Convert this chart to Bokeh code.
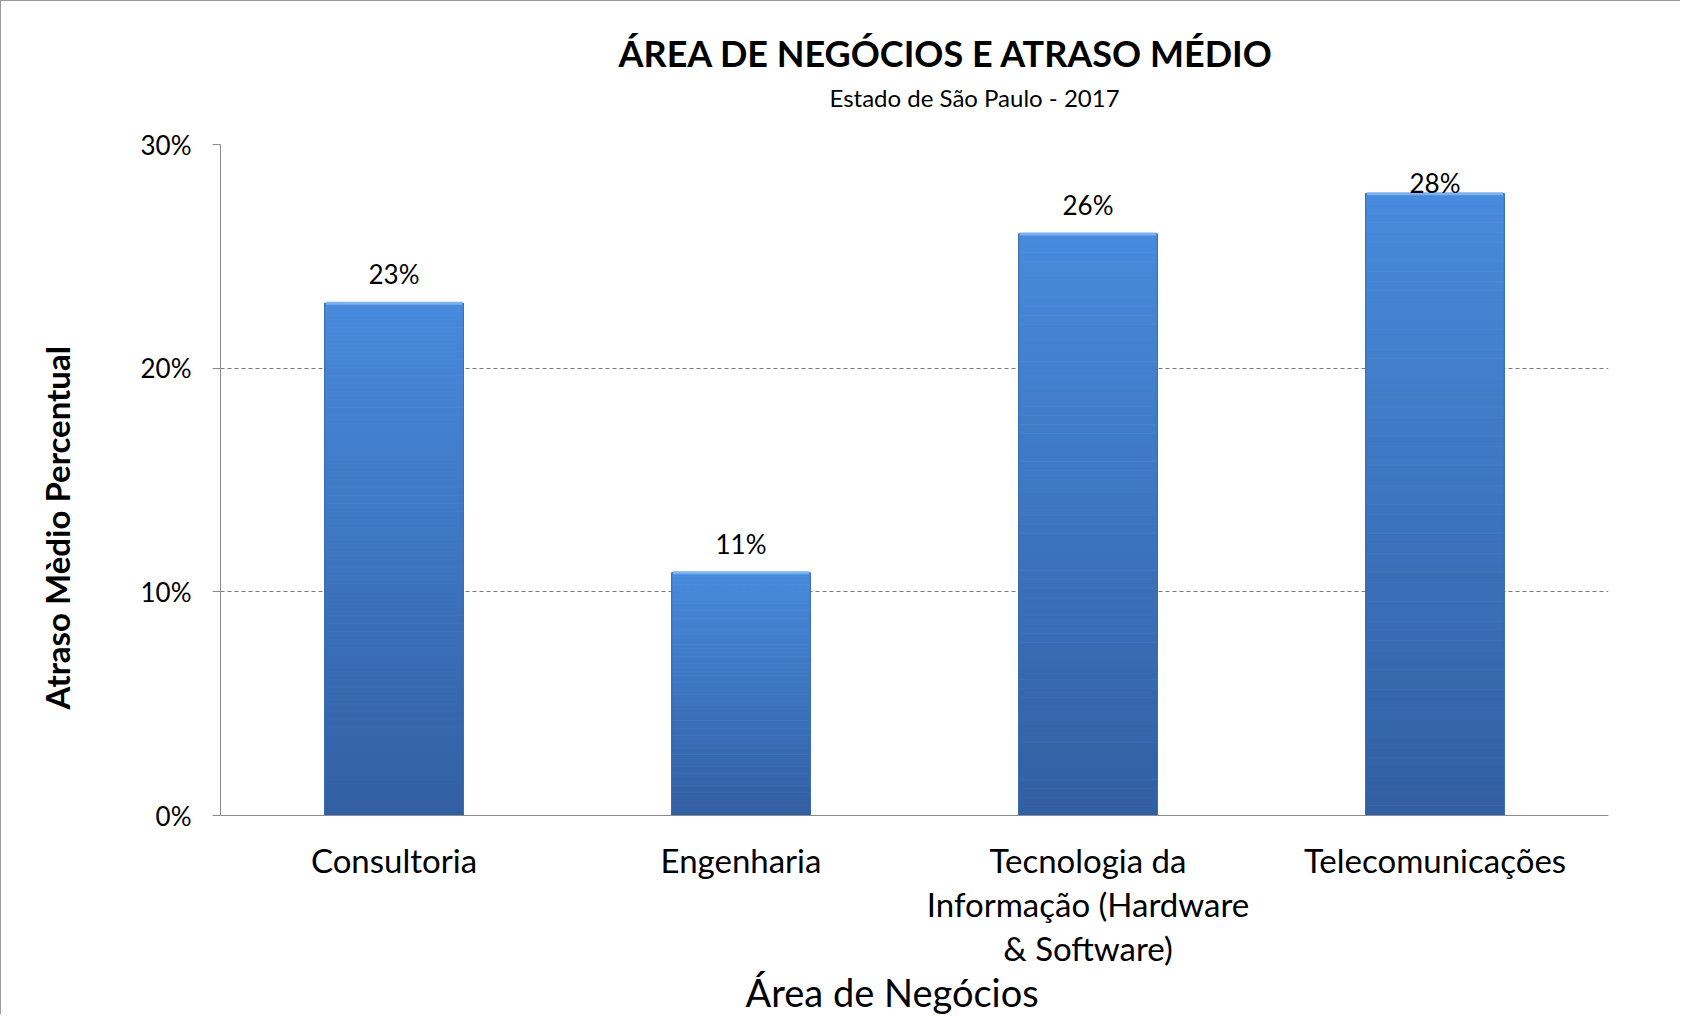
from bokeh.plotting import figure
from bokeh.models import (ColumnDataSource, FactorRange, Range1d, NumeralTickFormatter,
                          FixedTicker, Title, LabelSet)
from bokeh.core.properties import value
from bokeh.embed import file_html
from bokeh.resources import INLINE

# ---- data ----
categories = ["Consultoria", "Engenharia",
              "Tecnologia da\nInformação (Hardware\n& Software)", "Telecomunicações"]
values = [0.229, 0.1085, 0.260, 0.278]
value_labels = ["23%", "11%", "26%", "28%"]
y_ticks = [0.0, 0.1, 0.2, 0.3]

title_text = "ÁREA DE NEGÓCIOS E ATRASO MÉDIO"
subtitle_text = "Estado de São Paulo  - 2017"
x_title = "Área de Negócios"
y_title = "Atraso Mèdio Percentual"

FONT = "Lato"

p = figure(width=1680, height=1014, output_backend="svg", toolbar_location=None,
           x_range=FactorRange(*categories), y_range=Range1d(0, 0.3),
           min_border_left=219, min_border_right=73, min_border_top=143,
           min_border_bottom=200, background_fill_color="white",
           styles={"border-top": "1px solid #9a9a9a", "border-left": "1px solid #9a9a9a"})
p.outline_line_color = None

# ---- gradient bars (slices of each bar from its value) ----
N = 64
top_rgb = (0x48, 0x8a, 0xdc)
bot_rgb = (0x32, 0x5f, 0xa2)
sx, sb, st, sc = [], [], [], []
for c, v in zip(categories, values):
    for k in range(N):
        f = (k + 0.5) / N
        col = tuple(int(round(b + (t - b) * f)) for t, b in zip(top_rgb, bot_rgb))
        sx.append(c)
        sb.append(v * k / N)
        st.append(v * (k + 1) / N)
        sc.append("#%02x%02x%02x" % col)
p.vbar(x=sx, bottom=sb, top=st, width=0.4, fill_color=sc, line_color=sc, line_width=0.8)
# outline / bevel
src = ColumnDataSource(dict(x=categories, top=values, lab=value_labels,
                            ly=[min(v, 0.27) for v in values]))
p.vbar(x="x", top="top", width=0.4, source=src, fill_color=None,
       line_color="#3b6cae", line_width=1)
p.vbar(x="x", top="top", bottom="top", width=0.392, source=src, fill_color=None,
       line_color="#7db2ee", line_width=3)

labels = LabelSet(x="x", y="ly", text="lab", source=src, y_offset=29,
                  text_align="center", text_baseline="middle",
                  text_font=value(FONT), text_font_size=value("26px"),
                  text_color=value("#000000"))
p.add_layout(labels)

# ---- axes ----
p.xgrid.visible = False
p.ygrid.grid_line_color = "#7a7a7a"
p.ygrid.grid_line_dash = "4 3"
p.ygrid.grid_line_width = 1

p.yaxis.ticker = FixedTicker(ticks=y_ticks)
p.yaxis.formatter = NumeralTickFormatter(format="0%")
p.yaxis.minor_tick_line_color = None
p.yaxis.major_tick_in = 0
p.yaxis.major_tick_out = 8
p.yaxis.axis_line_color = "#8c8c8c"
p.yaxis.major_tick_line_color = "#8c8c8c"
p.yaxis.major_label_text_font = FONT
p.yaxis.major_label_text_font_size = "26px"
p.yaxis.major_label_text_color = "#000000"
p.yaxis.major_label_standoff = 21

# blank spacer panel to push the y title outward
p.add_layout(Title(text=" ", text_font_size="2px", standoff=57), "left")
p.add_layout(Title(text=y_title, align="left", offset=106, text_font=FONT,
                   text_font_size="33px", text_font_style="bold",
                   text_color="#000000", standoff=0), "left")

p.xaxis.major_tick_in = 0
p.xaxis.major_tick_out = 0
p.xaxis.major_tick_line_color = None
p.xaxis.axis_line_color = "#8c8c8c"
p.xaxis.major_label_text_font = FONT
p.xaxis.major_label_text_font_size = "33px"
p.xaxis.major_label_text_color = "#000000"
p.xaxis.major_label_text_line_height = 1.1
p.xaxis.major_label_standoff = 24

p.add_layout(Title(text=x_title, align="left", offset=525, text_font=FONT,
                   text_font_size="38px", text_font_style="normal",
                   text_color="#000000", standoff=-8), "below")

# ---- titles ----
p.add_layout(Title(text=subtitle_text, align="left", offset=609, text_font=FONT,
                   text_font_size="24px", text_font_style="normal",
                   text_color="#000000", standoff=66), "above")
p.add_layout(Title(text=title_text, align="left", offset=398, text_font=FONT,
                   text_font_size="36px", text_font_style="bold",
                   text_color="#000000", standoff=-54), "above")

open("out.html", "w").write(file_html(p, INLINE))
